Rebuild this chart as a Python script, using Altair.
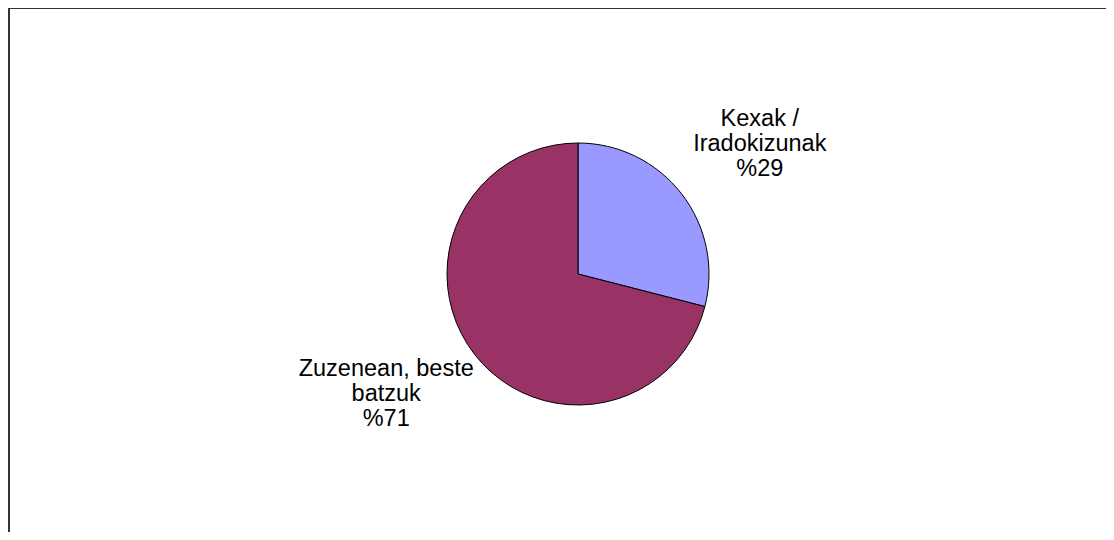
import altair as alt
import pandas as pd

categories = ["Kexak / Iradokizunak", "Zuzenean, beste batzuk"]
values = [29, 71]
label_lines = [["Kexak /", "Iradokizunak", "%29"], ["Zuzenean, beste", "batzuk", "%71"]]
colors = ["#9999FF", "#993366"]

df = pd.DataFrame({
    "category": categories,
    "value": values,
    "order": [0, 1],
    "label": ["\n".join(l) for l in label_lines],
})

W, H = 1098, 524
CX, CY = 570, 266

lab_base = alt.Chart(df).transform_stack(
    stack="value", groupby=[], as_=["v0", "v1"], sort=[alt.SortField("order")]
).transform_calculate(mid="(datum.v0 + datum.v1) / 2")

def lab(cat, dx, dy):
    return lab_base.transform_filter(alt.datum.category == cat).mark_text(
        radius=225, font="Liberation Sans", fontSize=23.5, lineHeight=25,
        color="#000000", align="center", baseline="middle", lineBreak="\n",
        dx=dx, dy=dy,
    ).encode(
        theta=alt.Theta("mid:Q", scale=alt.Scale(domain=[0, 100]), stack=None),
        text="label:N", x=alt.value(CX), y=alt.value(CY),
    )

pie = alt.Chart(df).mark_arc(radius=131, stroke="#000000", strokeWidth=1).encode(
    theta=alt.Theta("value:Q", stack=True, scale=alt.Scale(domain=[0, 100])),
    order=alt.Order("order:Q"),
    color=alt.Color("category:N", scale=alt.Scale(domain=categories, range=colors), legend=None),
    x=alt.value(CX), y=alt.value(CY),
)

top_rule = alt.Chart(df).mark_rule(color="#333333", strokeWidth=2).encode(
    x=alt.value(0), x2=alt.value(W), y=alt.value(0)
)
left_rule = alt.Chart(df).mark_rule(color="#333333", strokeWidth=2).encode(
    x=alt.value(1), y=alt.value(0), y2=alt.value(H)
)

chart = alt.layer(
    pie,
    lab(categories[0], 4, -17),
    lab(categories[1], -14, -43),
    top_rule, left_rule,
).properties(
    width=W, height=H, padding=0, autosize=alt.AutoSizeParams(type="none"),
    background="#FFFFFF",
).configure_view(stroke=None)

chart.save("out.html", embed_options={"renderer": "svg", "actions": False})
